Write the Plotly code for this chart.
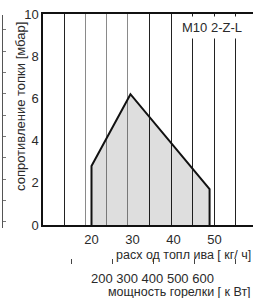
import plotly.graph_objects as go

# Data
fuel_flow = [20, 20, 29.5, 48.8, 48.8]          # kg/h
resistance = [0, 2.8, 6.2, 1.7, 0]              # mbar
x_ticks = [20, 30, 40, 50]
y_ticks = [0, 2, 4, 6, 8, 10]
grid_dark = [13.3, 34.2, 39.4, 44.7, 50.0, 55.2]
grid_light = [18.5, 23.7, 28.9]
power_ticks = [15, 25, 35, 45, 55]
power_labels = "200 300 400 500 600"
left_frag_ticks = [0, 0.3, 1.3, 2.3, 3.3, 4.3, 5.3, 6.3, 7.3, 8.3, 9.3, 10]

XR = [8.17, 59.39]
FONT = "Liberation Sans, Arial, sans-serif"
TXT = "#2a2a2a"

fig = go.Figure()
fig.add_trace(go.Scatter(
    x=fuel_flow, y=resistance, mode="lines", fill="toself",
    fillcolor="rgba(0,0,0,0.13)", line=dict(color="#111", width=2),
    hoverinfo="skip", showlegend=False))
# invisible helper traces to register auxiliary axes
for xa, ya in [("x2", "y"), ("x3", "y"), ("x4", "y"), ("x", "y2")]:
    fig.add_trace(go.Scatter(x=fuel_flow, y=resistance, xaxis=xa, yaxis=ya,
                             mode="lines", line=dict(width=0), opacity=0,
                             hoverinfo="skip", showlegend=False))

dom_x = [(43 - 2) / 251, 1]
dom_y = [(258 - 225) / 244, 1]

def py(p):
    return (258 - p) / 244

def px(p):
    return (p - 2) / 251

fig.update_layout(
    width=253, height=298, autosize=False,
    margin=dict(l=2, r=0, t=14, b=40, autoexpand=False),
    paper_bgcolor="white", plot_bgcolor="rgba(0,0,0,0)",
    font=dict(family=FONT, size=13, color=TXT),
    xaxis=dict(domain=dom_x, range=XR, tickvals=x_ticks, showgrid=False,
               zeroline=False, showline=True, linecolor="#111", linewidth=1.5,
               mirror=True, ticks="outside", ticklen=2, tickcolor="rgba(0,0,0,0)",
               tickfont=dict(size=13, color=TXT), automargin=False),
    xaxis2=dict(overlaying="x", range=XR, tickvals=grid_dark, showgrid=True,
                gridcolor="#222", gridwidth=1, showticklabels=False, ticks="",
                zeroline=False, showline=False),
    xaxis3=dict(overlaying="x", range=XR, tickvals=grid_light, showgrid=True,
                gridcolor="#8a8a8a", gridwidth=1, showticklabels=False, ticks="",
                zeroline=False, showline=False),
    xaxis4=dict(overlaying="x", anchor="free", position=0, range=XR,
                tickvals=power_ticks, showgrid=False, showticklabels=False,
                ticks="outside", ticklen=5, tickcolor="#444", tickwidth=1,
                zeroline=False, showline=False),
    yaxis=dict(domain=dom_y, range=[0, 10], tickvals=y_ticks, showgrid=False,
               zeroline=False, showline=True, linecolor="#111", linewidth=1.5,
               ticks="", tickfont=dict(size=13, color=TXT), automargin=False),
    yaxis2=dict(domain=[py(228), py(15)], anchor="free",
                position=0, range=[0, 10], tickvals=left_frag_ticks,
                showgrid=False, zeroline=False, showline=True, linecolor="#555",
                linewidth=1, ticks="inside", ticklen=3, tickcolor="#777",
                showticklabels=False),
)

fig.add_annotation(text="M10 2-Z-L", xref="paper", yref="paper",
                   x=px(246), xanchor="right", y=py(15.5), yanchor="top",
                   showarrow=False, bgcolor="white", borderpad=3,
                   font=dict(size=13, color=TXT))
fig.add_annotation(text="сопротивление топки [мбар]", xref="paper", yref="paper",
                   x=px(20), xanchor="center", y=py(107), yanchor="middle",
                   textangle=-90, showarrow=False, font=dict(size=13, color=TXT))
fig.add_annotation(text="расх од топл ива [ кг/ ч]", xref="paper", yref="paper",
                   x=1, xanchor="right", y=py(255), yanchor="middle",
                   showarrow=False, font=dict(size=12.5, color=TXT))
fig.add_annotation(text=power_labels, xref="paper", yref="paper",
                   x=px(152.5), xanchor="center", y=py(278), yanchor="middle",
                   showarrow=False, font=dict(size=13, color=TXT))
fig.add_annotation(text="мощность горелки [ к Вт]", xref="paper", yref="paper",
                   x=1, xanchor="right", y=py(292), yanchor="middle",
                   showarrow=False, font=dict(size=12.5, color=TXT))

fig.write_html("out.html", config={"displayModeBar": False},
               post_script="document.body.style.margin='0px';document.body.style.overflow='hidden';")
